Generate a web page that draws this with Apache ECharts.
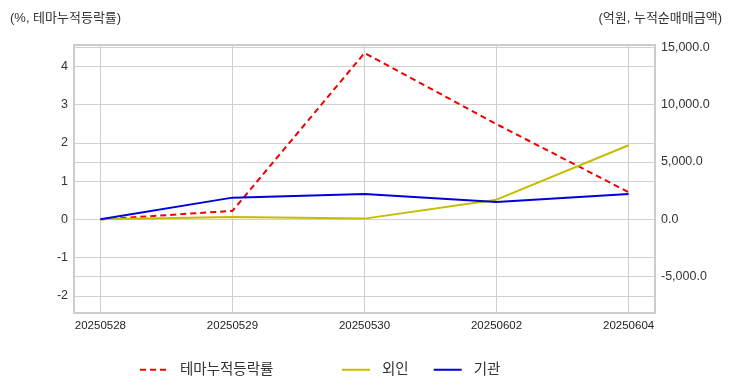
<!DOCTYPE html>
<html>
<head>
<meta charset="utf-8">
<script src="https://cdn.jsdelivr.net/npm/echarts@6/dist/echarts.min.js"></script>
<style>
html,body{margin:0;padding:0;background:#fff;}
#chart{width:732px;height:392px;}
</style>
</head>
<body>
<div id="chart"></div>
<script>
const categories = ['20250528', '20250529', '20250530', '20250602', '20250604'];
const themeRate = [0, 0.22, 4.35, 2.49, 0.71];
const foreign = [0, 200, 60, 1710, 6460];
const institution = [0, 1890, 2200, 1500, 2200];
const leftTicks = [-2, -1, 0, 1, 2, 3, 4];
const rightTicks = [-5000, 0, 5000, 10000, 15000];
const leftTitle = '(%, 테마누적등락률)';
const rightTitle = '(억원, 누적순매매금액)';
const seriesNames = ['테마누적등락률', '외인', '기관'];

const FONT = "'Liberation Sans', 'Noto Sans CJK KR', sans-serif";
const toPairs = arr => arr.map((v, i) => [i, v]);
const catIdx = categories.map((c, i) => i);

const chart = echarts.init(document.getElementById('chart'));
const legendCommon = {
  itemWidth: 28, itemHeight: 14, bottom: 10, itemGap: 24,
  itemStyle: { opacity: 0 },
  textStyle: { fontFamily: FONT, fontSize: 14.5, color: '#333', padding: [0, 0, 0, 7] }
};
const gridLine = { show: true, lineStyle: { color: '#d0d0d0', width: 1 } };
chart.setOption({
  animation: false,
  backgroundColor: '#fff',
  title: [
    { text: leftTitle, left: 5, top: 7, textStyle: { fontFamily: FONT, fontSize: 13, fontWeight: 'normal', color: '#333' } },
    { text: rightTitle, right: 5, top: 7, textStyle: { fontFamily: FONT, fontSize: 13, fontWeight: 'normal', color: '#333' } }
  ],
  legend: [
    Object.assign({}, legendCommon, { left: 134, data: [seriesNames[0]] }),
    Object.assign({}, legendCommon, { left: 336, data: [seriesNames[1], seriesNames[2]] })
  ],
  grid: { left: 74, right: 77, top: 45, bottom: 79, show: true, borderColor: '#ccc', borderWidth: 2, backgroundColor: 'transparent' },
  xAxis: {
    type: 'value', min: -0.2, max: 4.2,
    axisLine: { show: false },
    axisTick: { show: false, customValues: catIdx },
    splitLine: gridLine,
    axisLabel: {
      customValues: catIdx,
      fontFamily: FONT, fontSize: 11.5, color: '#222', margin: 7,
      formatter: v => categories[Math.round(v)]
    }
  },
  yAxis: [
    {
      type: 'value', min: -2.45, max: 4.56,
      axisLine: { show: false },
      axisTick: { show: false, customValues: leftTicks },
      splitLine: gridLine,
      axisLabel: {
        customValues: leftTicks,
        fontFamily: FONT, fontSize: 12.5, color: '#333', margin: 6,
        formatter: v => String(v)
      }
    },
    {
      type: 'value', min: -8170, max: 15200,
      axisLine: { show: false },
      axisTick: { show: false, customValues: rightTicks },
      splitLine: gridLine,
      axisLabel: {
        customValues: rightTicks,
        fontFamily: FONT, fontSize: 12.5, color: '#333', margin: 6,
        formatter: v => v.toLocaleString('en-US', { minimumFractionDigits: 1, maximumFractionDigits: 1 })
      }
    }
  ],
  series: [
    { name: seriesNames[0], type: 'line', yAxisIndex: 0, data: toPairs(themeRate), symbol: 'none', color: '#f00000',
      lineStyle: { color: '#f00000', width: 2, type: [6, 4] } },
    { name: seriesNames[1], type: 'line', yAxisIndex: 1, data: toPairs(foreign), symbol: 'none', color: '#c4bd00',
      lineStyle: { color: '#c4bd00', width: 2 } },
    { name: seriesNames[2], type: 'line', yAxisIndex: 1, data: toPairs(institution), symbol: 'none', color: '#0000dd',
      lineStyle: { color: '#0000dd', width: 2 } }
  ]
});
</script>
</body>
</html>
